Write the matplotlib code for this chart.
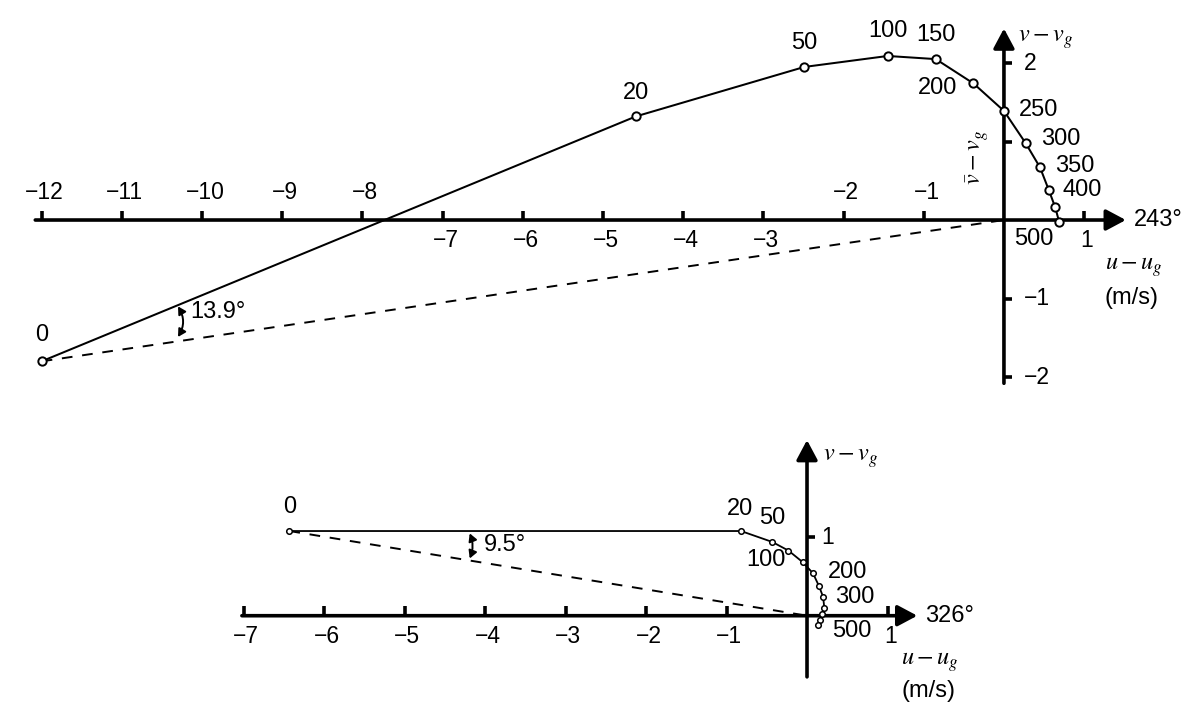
import numpy as np
import matplotlib.pyplot as plt
from matplotlib.patches import FancyArrowPatch

plt.rcParams['font.family'] = ['Liberation Sans', 'DejaVu Sans']
plt.rcParams['mathtext.fontset'] = 'stix'

# heights (m) and wind deviations (m/s), upper hodograph (243 deg)
z_top = [0, 20, 50, 100, 150, 200, 250, 300, 350, 400, 450, 500]
u_top = [-12.0, -4.59, -2.49, -1.45, -0.85, -0.38, 0.0, 0.27, 0.45, 0.56, 0.64, 0.69]
v_top = [-1.80, 1.32, 1.95, 2.09, 2.05, 1.74, 1.39, 0.98, 0.67, 0.38, 0.16, -0.03]

# lower hodograph (326 deg)
z_bot = [0, 20, 50, 100, 150, 200, 250, 300, 350, 400, 450, 500]
u_bot = [-6.43, -0.82, -0.43, -0.23, -0.05, 0.075, 0.15, 0.20, 0.215, 0.19, 0.165, 0.14]
v_bot = [1.08, 1.08, 0.94, 0.83, 0.68, 0.54, 0.375, 0.24, 0.10, 0.02, -0.05, -0.12]

# label offsets in points, only for the labelled heights
lab_top = {0: (0, 19), 20: (0, 17), 50: (0, 17), 100: (0, 18), 150: (0, 17),
           200: (-26, -3), 250: (25, 1), 300: (25, 3), 350: (25, 1),
           400: (24, 0), 500: (-18, -12)}
lab_bot = {0: (0, 17), 20: (-1, 16), 50: (0, 17), 100: (-16, -7),
           200: (25, 1), 300: (23, 0), 500: (24, -4)}

FS = 17
TFS = 16.5
MFS = 17.5
ALW = 2.6


def arrow(ax, p0, p1):
    ax.add_patch(FancyArrowPatch(p0, p1, arrowstyle='-|>,head_length=0.6,head_width=0.32',
                                 mutation_scale=20, lw=ALW, color='black',
                                 shrinkA=0, shrinkB=0, zorder=2))


def lab(t):
    return '\u2212%d' % -t if t < 0 else '%d' % t


def frame(ax, xr, yr, xticks_up, xticks_dn, yticks, ylab, angle):
    arrow(ax, (xr[0], 0), (xr[1], 0))
    arrow(ax, (0, yr[0]), (0, yr[1]))
    for t in xticks_up + xticks_dn:
        ax.plot([t, t], [0, 0.12], color='black', lw=ALW, solid_capstyle='butt')
    for t in xticks_up:
        ax.annotate(lab(t), (t, 0), xytext=(2, 20), textcoords='offset points',
                    ha='center', va='center', fontsize=TFS)
    for t in xticks_dn:
        ax.annotate(lab(t), (t, 0), xytext=(2, -15), textcoords='offset points',
                    ha='center', va='center', fontsize=TFS)
    for t, show in yticks:
        ax.plot([0, 0.1], [t, t], color='black', lw=ALW, solid_capstyle='butt')
        if show:
            ax.annotate(lab(t), (0, t), xytext=(ylab, 0), textcoords='offset points',
                        ha='left', va='center', fontsize=TFS)
    ax.text(xr[1] + 0.1, 0, angle, ha='left', va='center', fontsize=FS)


fig = plt.figure(figsize=(11.98, 7.24), dpi=100)

# ---- upper panel ----
ax1 = fig.add_axes([0, 324 / 724, 1, 400 / 724])
ax1.set_xlim(-12.52, 2.42)
ax1.set_ylim(-2.293, 2.803)
ax1.axis('off')
frame(ax1, (-12.08, 1.52), (-2.08, 2.44), [-12, -11, -10, -9, -8, -2, -1],
      [-7, -6, -5, -4, -3, 1], [(2, True), (1, False), (-1, True), (-2, True)], 14,
      '243\u00b0')
ax1.plot([u_top[0], 0], [v_top[0], 0], color='black', lw=1.4, ls=(0, (5.5, 5)), zorder=1)
ax1.plot(u_top, v_top, color='black', lw=1.45, marker='o', ms=6, mfc='white',
         mec='black', mew=1.4, zorder=3)
for z, u, v in zip(z_top, u_top, v_top):
    if z in lab_top:
        ax1.annotate(str(z), (u, v), xytext=lab_top[z], textcoords='offset points',
                     ha='center', va='center', fontsize=FS)
ax1.add_patch(FancyArrowPatch((-10.30, -1.10), (-10.30, -1.49),
                              arrowstyle='<|-|>,head_length=0.45,head_width=0.25',
                              mutation_scale=10, lw=1.4, color='black',
                              connectionstyle='arc3,rad=-0.3', shrinkA=0, shrinkB=0))
ax1.text(-10.15, -1.17, '13.9\u00b0', ha='left', va='center', fontsize=FS)
ax1.text(0.18, 2.3, r'$v - v_g$', ha='left', va='center', fontsize=MFS)
ax1.text(-0.33, 0.8, r'$\bar{v} - v_g$', ha='center', va='center', fontsize=MFS,
         rotation=90)
ax1.text(1.26, -0.6, r'$u - u_g$', ha='left', va='center', fontsize=MFS)
ax1.text(1.25, -0.99, '(m/s)', ha='left', va='center', fontsize=FS)

# ---- lower panel ----
ax2 = fig.add_axes([0, 0, 1, 324 / 724])
ax2.set_xlim(-10.025, 4.857)
ax2.set_ylim(-1.381, 2.751)
ax2.axis('off')
frame(ax2, (-7.02, 1.37), (-0.78, 2.24), [], [-7, -6, -5, -4, -3, -2, -1, 1],
      [(1, True)], 10, '326\u00b0')
ax2.plot([u_bot[0], 0], [v_bot[0], 0], color='black', lw=1.4, ls=(0, (5.5, 5)), zorder=1)
ax2.plot(u_bot, v_bot, color='black', lw=1.3, marker='o', ms=4, mfc='white',
         mec='black', mew=1.1, zorder=3)
for z, u, v in zip(z_bot, u_bot, v_bot):
    if z in lab_bot:
        ax2.annotate(str(z), (u, v), xytext=lab_bot[z], textcoords='offset points',
                     ha='center', va='center', fontsize=FS)
ax2.add_patch(FancyArrowPatch((-4.19, 1.05), (-4.19, 0.73),
                              arrowstyle='<|-|>,head_length=0.45,head_width=0.25',
                              mutation_scale=10, lw=1.4, color='black',
                              connectionstyle='arc3,rad=-0.2', shrinkA=0, shrinkB=0))
ax2.text(-4.02, 0.90, '9.5\u00b0', ha='left', va='center', fontsize=FS)
ax2.text(0.2, 2.0, r'$v - v_g$', ha='left', va='center', fontsize=MFS)
ax2.text(1.17, -0.59, r'$u - u_g$', ha='left', va='center', fontsize=MFS)
ax2.text(1.17, -0.96, '(m/s)', ha='left', va='center', fontsize=FS)

fig.savefig('out.png', dpi=100)
